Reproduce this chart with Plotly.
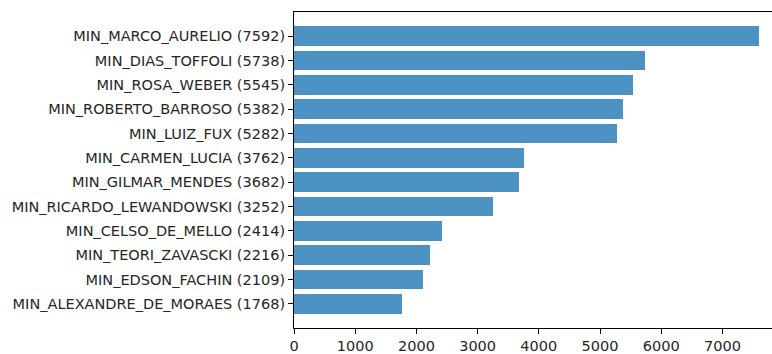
import plotly.graph_objects as go

names = ["MIN_MARCO_AURELIO", "MIN_DIAS_TOFFOLI", "MIN_ROSA_WEBER", "MIN_ROBERTO_BARROSO",
         "MIN_LUIZ_FUX", "MIN_CARMEN_LUCIA", "MIN_GILMAR_MENDES", "MIN_RICARDO_LEWANDOWSKI",
         "MIN_CELSO_DE_MELLO", "MIN_TEORI_ZAVASCKI", "MIN_EDSON_FACHIN", "MIN_ALEXANDRE_DE_MORAES"]
counts = [7592, 5738, 5545, 5382, 5282, 3762, 3682, 3252, 2414, 2216, 2109, 1768]
x_ticks = [0, 1000, 2000, 3000, 4000, 5000, 6000, 7000]

labels = [f"{n} ({c})" for n, c in zip(names, counts)]
ypos = list(range(len(names) - 1, -1, -1))

fig = go.Figure(go.Bar(
    x=counts, y=ypos, orientation="h", width=0.8,
    marker=dict(color="rgba(31,119,180,0.8)", line=dict(width=0)),
))

fig.update_layout(
    width=772, height=354,
    margin=dict(l=294, r=0, t=12, b=24),
    paper_bgcolor="white", plot_bgcolor="white",
    font=dict(family="DejaVu Sans", size=14.5, color="#262626"),
    showlegend=False,
    bargap=0,
)
fig.update_xaxes(
    range=[0, 7810], tickvals=x_ticks, ticktext=[str(v) for v in x_ticks],
    showgrid=False, zeroline=False, showline=True, linecolor="black", linewidth=1,
    mirror=True, ticks="outside", ticklen=5, tickcolor="black",
)
fig.update_yaxes(
    range=[-0.99, 11.99], tickvals=ypos, ticktext=labels,
    showgrid=False, zeroline=False, showline=True, linecolor="black", linewidth=1,
    ticks="outside", ticklen=5, tickcolor="black",
)

fig.write_html("out.html")
